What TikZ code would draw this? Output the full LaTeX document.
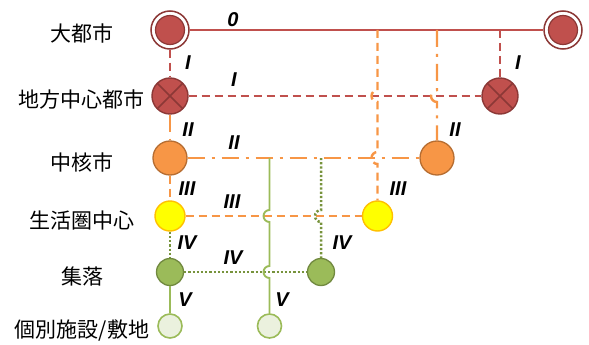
\documentclass[tikz,border=0pt]{standalone}
\usepackage{fontspec}
\newfontfamily\cjkfont{Noto Sans CJK JP}
\newfontfamily\numfont{Liberation Sans}[BoldItalicFont={Liberation Sans Bold Italic}]
\definecolor{cityred}{HTML}{C0504D}
\definecolor{reddark}{HTML}{8C3836}
\definecolor{coreorange}{HTML}{F79646}
\definecolor{orangedark}{HTML}{B66D31}
\definecolor{lifeyellow}{HTML}{FFFF00}
\definecolor{yellowrim}{HTML}{FFC000}
\definecolor{villagegreen}{HTML}{9BBB59}
\definecolor{greendark}{HTML}{71893F}
\definecolor{dotgreen}{HTML}{77933C}
\definecolor{sitefill}{HTML}{EBF1DE}
\begin{document}
\begin{tikzpicture}[x=1pt,y=-1pt,
  tier/.style={font=\cjkfont\fontsize{21}{21}\selectfont, inner sep=0pt, anchor=center},
  num/.style={font=\numfont\bfseries\itshape\fontsize{20}{20}\selectfont, inner sep=0pt},
  lvl0/.style={draw=cityred, line width=2.4pt},
  lvl1/.style={draw=cityred, line width=2.4pt, dash pattern=on 8pt off 5pt},
  lvl2/.style={draw=coreorange, line width=2.4pt, dash pattern=on 17pt off 7pt on 3pt off 7pt},
  lvl3/.style={draw=coreorange, line width=2.4pt, dash pattern=on 8pt off 5pt},
  lvl4/.style={draw=dotgreen, line width=2.5pt, dash pattern=on 2.2pt off 2pt},
  lvl5/.style={draw=villagegreen, line width=1.9pt},
  bigcity/.style={circle, minimum size=38pt, inner sep=0pt, draw=reddark, line width=1.5pt, fill=white,
    path picture={\draw[reddark, fill=cityred, line width=1.2pt] (path picture bounding box.center) circle[radius=14.5pt];}},
  regcity/.style={circle, minimum size=36pt, inner sep=0pt, draw=reddark, fill=cityred, line width=1.4pt,
    path picture={\draw[reddark, line width=1.6pt]
      (path picture bounding box.north west) -- (path picture bounding box.south east)
      (path picture bounding box.north east) -- (path picture bounding box.south west);}},
  corecity/.style={circle, minimum size=34pt, inner sep=0pt, draw=orangedark, fill=coreorange, line width=1.3pt},
  lifecenter/.style={circle, minimum size=30pt, inner sep=0pt, draw=yellowrim, fill=lifeyellow, line width=1.4pt},
  village/.style={circle, minimum size=27pt, inner sep=0pt, draw=greendark, fill=villagegreen, line width=1.3pt},
  site/.style={circle, minimum size=24pt, inner sep=0pt, draw=villagegreen, fill=sitefill, line width=1.6pt}
]
\useasboundingbox (0,0) rectangle (589,345);

% tier names
\node[tier] (t0) at (82,33) {大都市};
\node[tier] (t1) at (82,100) {地方中心都市};
\node[tier] (t2) at (82,162) {中核市};
\node[tier] (t3) at (82,221) {生活圏中心};
\node[tier] (t4) at (82,276) {集落};
\node[tier] (t5) at (82,331) {個別施設/敷地};

% settlements
\node[bigcity] (T1) at (170,30) {};
\node[bigcity] (T2) at (563,30) {};
\node[regcity] (R1) at (170,96) {};
\node[regcity] (R2) at (500,96) {};
\node[corecity] (C1) at (170,158) {};
\node[corecity] (C2) at (437,158) {};
\node[lifecenter] (L1) at (170,216) {};
\node[lifecenter] (L2) at (377.5,216) {};
\node[village] (V1) at (170,272) {};
\node[village] (V2) at (321,272) {};
\node[site] (F1) at (170,326) {};
\node[site] (F2) at (269.5,326) {};

% branch points
\coordinate (b3) at (377.5,30);
\coordinate (b2) at (437,30);
\coordinate (b1) at (500,30);
\coordinate (g5) at (269.5,158);
\coordinate (g4) at (321,158);

% horizontal links
\draw[lvl0] (T1) -- (T2);
\draw[lvl1] (R1) -- (R2);
\draw[lvl2] (C1) -- (C2);
\draw[lvl3] (L1) -- (L2);
\draw[lvl4] (V1) -- (V2);

% left column
\draw[lvl1] (T1) -- (R1);
\draw[lvl2] (R1) -- (C1);
\draw[lvl3] (C1) -- (L1);
\draw[lvl4] (L1) -- (V1);
\draw[lvl5] (V1) -- (F1);

% branches with hops over crossing lines
\draw[lvl1] (b1) -- (R2);
\draw[lvl2] (b2) -- (437,90) arc[start angle=90, end angle=270, radius=6pt] -- (C2);
\draw[lvl3] (b3) -- (377.5,90) arc[start angle=90, end angle=270, radius=6pt]
  -- (377.5,152) arc[start angle=90, end angle=270, radius=6pt] -- (L2);
\draw[lvl4] (g4) -- (321,210) arc[start angle=90, end angle=270, radius=6pt] -- (V2);
\draw[lvl5] (g5) -- (269.5,210) arc[start angle=90, end angle=270, radius=6pt]
  -- (269.5,266) arc[start angle=90, end angle=270, radius=6pt] -- (F2);

% level numerals
\node[num] (n0) at (233,20) {0};
\node[num] (n1a) at (188,63) {I};
\node[num] (n1b) at (234,80) {I};
\node[num] (n1c) at (518,63) {I};
\node[num] (n2a) at (188,130) {II};
\node[num] (n2b) at (234,143) {II};
\node[num] (n2c) at (455,130) {II};
\node[num] (n3a) at (187,189) {III};
\node[num] (n3b) at (232,202) {III};
\node[num] (n3c) at (398,189) {III};
\node[num] (n4a) at (187,243) {IV};
\node[num] (n4b) at (233,258) {IV};
\node[num] (n4c) at (342,243) {IV};
\node[num] (n5a) at (185,300) {V};
\node[num] (n5b) at (282,300) {V};
\end{tikzpicture}
\end{document}
